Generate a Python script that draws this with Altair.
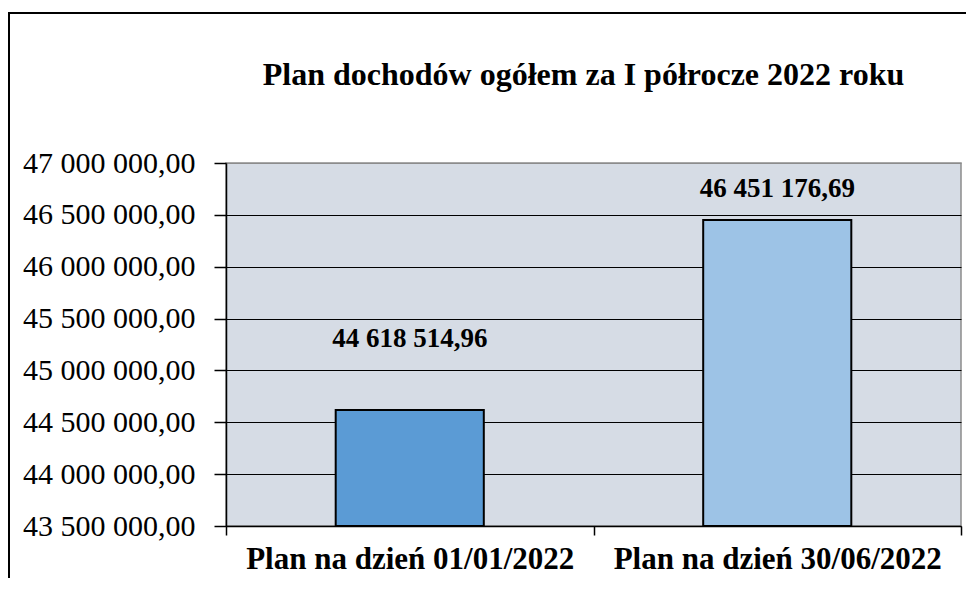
import altair as alt
import pandas as pd

categories = ["Plan na dzień 01/01/2022", "Plan na dzień 30/06/2022"]
values = [44618514.96, 46451176.69]
y_ticks = [43500000, 44000000, 44500000, 45000000, 45500000, 46000000, 46500000, 47000000]
bar_colors = ["#5B9BD5", "#9DC3E6"]
label_dy = [-63, -23]

df = pd.DataFrame({"cat": categories, "val": values, "base": [43500000] * 2})

FONT = "Liberation Serif"
W, H = 735, 363

x_enc = alt.X("cat:N", sort=categories,
              scale=alt.Scale(paddingInner=0, paddingOuter=0),
              axis=alt.Axis(title=None, labelFont=FONT, labelFontSize=31, labelFontWeight="bold",
                            labelColor="black", tickBand="extent", tickSize=9, tickColor="black",
                            tickWidth=1.5, domainColor="black", domainWidth=1.5, labelPadding=9,
                            labelAngle=0, labelLimit=500))
y_scale = alt.Scale(domain=[43500000, 47000000], zero=False, nice=False)

bars = alt.Chart(df).mark_bar(stroke="black", strokeWidth=2,
                              width=alt.RelativeBandSize(0.403)).encode(
    x=x_enc,
    y=alt.Y("val:Q", scale=y_scale,
            axis=alt.Axis(title=None, values=y_ticks, format=",.2f", labelFont=FONT,
                          labelFontSize=30, labelColor="black", tickSize=12, tickColor="black",
                          tickWidth=1.5, labelPadding=19, domainColor="black", domainWidth=1.5,
                          grid=True,
                          gridColor={"condition": {"test": "datum.value == 47000000", "value": "#8c8c8c"},
                                     "value": "#000000"},
                          gridWidth=1.2)),
    y2="base:Q",
    color=alt.Color("cat:N", scale=alt.Scale(domain=categories, range=bar_colors), legend=None),
)

texts = []
for cat, dy in zip(categories, label_dy):
    texts.append(
        alt.Chart(df).transform_filter(alt.datum.cat == cat).mark_text(
            font=FONT, fontSize=27, fontWeight="bold", color="black", baseline="alphabetic", dy=dy
        ).encode(x=alt.X("cat:N", sort=categories), y=alt.Y("val:Q", scale=y_scale),
                 text=alt.Text("val:Q", format=",.2f"))
    )

frame_top = alt.Chart(df).mark_rule(color="black", strokeWidth=2).encode(
    x=alt.value(-220), x2=alt.value(760), y=alt.value(-150))
frame_left = alt.Chart(df).mark_rule(color="black", strokeWidth=2).encode(
    x=alt.value(-217), y=alt.value(-151), y2=alt.value(420))

chart = alt.layer(bars, *texts, frame_top, frame_left).properties(
    width=W, height=H,
    autosize=alt.AutoSizeParams(type="none"),
    padding={"left": 218, "top": 155, "right": 5, "bottom": 52},
    title=alt.TitleParams("Plan dochodów ogółem za I półrocze 2022 roku", font=FONT, fontSize=32,
                          fontWeight="bold", color="black", anchor="middle", frame="group",
                          baseline="alphabetic", offset=-106, dx=-10),
).configure(
    locale={"number": {"decimal": ",", "thousands": " ", "grouping": [3], "currency": ["", ""]}},
    background="white",
).configure_view(fill="#D6DCE5", stroke="#8c8c8c", strokeWidth=1.5)

chart.save("out.html", embed_options={"renderer": "svg", "actions": False})
